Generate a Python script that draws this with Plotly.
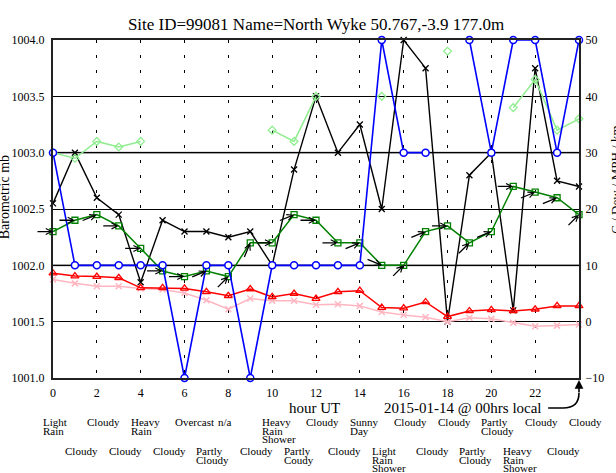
import math
import plotly.graph_objects as go

# Hourly observations, North Wyke, 2015-01-14 (hour UT)
hours = list(range(25))
pressure_mb = [1002.55, 1003.0, 1002.6, 1002.45, 1001.85, 1002.4, 1002.3, 1002.3,
               1002.25, 1002.3, 1002.0, 1002.85, 1003.5, 1003.0, 1003.25, 1002.5,
               1004.0, 1003.75, 1001.5, 1002.8, 1003.0, 1001.6, 1003.75, 1002.75, 1002.7]
temperature_c = [8.6, 8.1, 8.0, 7.8, 6.0, 6.0, 5.9, 5.3, 4.6, 5.8, 4.4, 5.0, 4.1,
                 5.3, 5.5, 2.5, 2.4, 3.5, 0.9, 1.9, 2.1, 1.9, 2.2, 2.8, 2.8]
dew_point_c = [7.5, 6.8, 6.3, 6.3, 5.9, 5.7, 5.1, 3.8, 2.2, 4.1, 3.7, 3.7, 3.0,
               3.1, 2.8, 1.7, 1.2, 0.8, 0.0, 0.7, 0.5, -0.2, -0.8, -0.7, -0.5]
wind_mph = [16, 18, 19, 17, 13, 9, 8, 9, 8, 14, 14, 19, 18, 14, 14, 10, 10, 16,
            17, 14, 16, 24, 23, 22, 19]
gust_mph = [30, 29, 32, 31, 32, None, None, None, None, None, 34, 32, 40, None,
            None, 40, None, None, 48, None, None, 38, 43, 34, 36]
visibility_km = [30, 10, 10, 10, 10, 10, -10, 10, 10, -10, 10, 10, 10, 10, 10,
                 50, 30, 30, None, 50, 30, 50, 50, 30, 50]
# direction the wind blows from, compass degrees
wind_from_deg = [270, 270, 247.5, 270, 270, 270, 270, 247.5, 225, 202.5, 270,
                 247.5, 270, 270, 247.5, 292.5, 225, 247.5, 270, 225, 247.5,
                 270, 247.5, 247.5, 225]
weather = ["Light Rain", "Cloudy", "Cloudy", "Cloudy", "Heavy Rain", "Cloudy",
           "Overcast", "Partly Cloudy", "n/a", "Cloudy", "Heavy Rain Shower",
           "Partly Coudy", "Cloudy", "Cloudy", "Sunny Day", "Light Rain Shower",
           "Cloudy", "Cloudy", "Cloudy", "Partly Cloudy", "Partly Cloudy",
           "Heavy Rain Shower", "Cloudy", "Cloudy", "Cloudy"]

left_ticks = [1001.0, 1001.5, 1002.0, 1002.5, 1003.0, 1003.5, 1004.0]
right_ticks = [-10, 0, 10, 20, 30, 40, 50]
hour_ticks = list(range(0, 23, 2))

FONT = "Liberation Serif"
W, H = 616, 473
L, R, T, B = 50, 37, 40, 95
PW, PH = W - L - R, H - T - B


def px(x):
    return (x - L) / PW


def py(y):
    return (H - B - y) / PH


fig = go.Figure()

fig.add_trace(go.Scatter(
    x=hours, y=gust_mph, yaxis="y2", mode="lines+markers", cliponaxis=False,
    line=dict(color="#90ee90", width=1.5),
    marker=dict(symbol="diamond-open", size=6, color="#90ee90", line=dict(width=1.3)),
    name="Gust"))
fig.add_trace(go.Scatter(
    x=hours, y=dew_point_c, yaxis="y2", mode="lines+markers", cliponaxis=False,
    line=dict(color="#ffb6c1", width=1.5),
    marker=dict(symbol="x-thin", size=6, line=dict(color="#ffb6c1", width=1.5)),
    name="Dew"))
fig.add_trace(go.Scatter(
    x=hours, y=temperature_c, yaxis="y2", mode="lines+markers", cliponaxis=False,
    line=dict(color="#ff0000", width=1.5),
    marker=dict(symbol="triangle-up-open", size=7, color="#ff0000", line=dict(width=1.3)),
    name="Temp"))
fig.add_trace(go.Scatter(
    x=hours, y=wind_mph, yaxis="y2", mode="lines+markers", cliponaxis=False,
    line=dict(color="#008000", width=1.5),
    marker=dict(symbol="square-open", size=6, color="#008000", line=dict(width=1.3)),
    name="Wind"))
fig.add_trace(go.Scatter(
    x=hours, y=visibility_km, yaxis="y2", mode="lines+markers", cliponaxis=False,
    line=dict(color="#0000ff", width=1.6),
    marker=dict(symbol="circle", size=7, color="white", line=dict(color="#0000ff", width=1.5)),
    name="Visibility"))
fig.add_trace(go.Scatter(
    x=hours, y=pressure_mb, yaxis="y", mode="lines+markers", cliponaxis=False,
    line=dict(color="#000000", width=1.4),
    marker=dict(symbol="x-thin", size=6, line=dict(color="#000000", width=1.3)),
    name="Pressure"))

annotations = []

# wind direction arrows, head at each wind-speed point
ARROW = 17
for h, spd, d in zip(hours, wind_mph, wind_from_deg):
    b = math.radians(d - 180)
    dx, dy = math.sin(b), math.cos(b)
    annotations.append(dict(
        x=h, y=spd, xref="x", yref="y2", text="", showarrow=True,
        ax=-ARROW * dx, ay=ARROW * dy, arrowhead=5, arrowsize=0.9,
        arrowwidth=1.3, arrowcolor="black", standoff=0))

# weather descriptions, one word per line, two staggered rows
for h, desc in zip(hours, weather):
    top = 422 if h % 2 == 0 else 451
    for i, word in enumerate(desc.split(" ")):
        annotations.append(dict(
            x=h, xref="x", y=py(top + 8.65 * i), yref="paper", text=word,
            showarrow=False, xanchor="left", yanchor="middle", xshift=-12,
            font=dict(family=FONT, size=11, color="black")))

annotations += [
    dict(x=px(313), y=py(408), xref="paper", yref="paper", text="hour UT",
         showarrow=False, xanchor="center", yanchor="middle",
         font=dict(family=FONT, size=15, color="black")),
    dict(x=px(462), y=py(408), xref="paper", yref="paper",
         text="2015-01-14 @ 00hrs local", showarrow=False,
         xanchor="center", yanchor="middle",
         font=dict(family=FONT, size=15, color="black")),
    dict(x=24, y=1001.0, xref="x", yref="y", text="", showarrow=True,
         ax=0, ay=16, arrowhead=2, arrowsize=1.1, arrowwidth=1.6,
         arrowcolor="black", standoff=2),
    dict(x=px(1), y=py(197), xref="paper", yref="paper", text="Barometric mb",
         textangle=-90, showarrow=False, xanchor="center", yanchor="middle",
         font=dict(family=FONT, size=14, color="black")),
    dict(x=px(615), y=py(180), xref="paper", yref="paper",
         text="C / Dew / MPH / km", textangle=-90, showarrow=False,
         xanchor="center", yanchor="middle",
         font=dict(family=FONT, size=13, color="black")),
]

shapes = [
    dict(type="line", xref="paper", yref="y", x0=0, x1=1, y0=v, y1=v,
         line=dict(color="#808080", width=2), layer="between")
    for v in (1002.0, 1003.0)
]
shapes.append(dict(
    type="path", xref="paper", yref="paper",
    path=f"M {px(548)},{py(408)} L {px(563)},{py(408)} Q {px(579)},{py(408)} {px(579)},{py(393)}",
    line=dict(color="black", width=1.6)))

fig.update_layout(
    width=W, height=H,
    margin=dict(l=L, r=R, t=T, b=B, pad=0),
    paper_bgcolor="white", plot_bgcolor="white",
    showlegend=False,
    font=dict(family=FONT, size=12, color="black"),
    title=dict(text="Site ID=99081 Name=North Wyke 50.767,-3.9 177.0m",
               x=0.5, xref="paper", xanchor="center",
               y=1 - 24 / H, yref="container", yanchor="middle",
               font=dict(family=FONT, size=17, color="black")),
    xaxis=dict(range=[0, 24], tickvals=hour_ticks, ticks="", showgrid=True,
               gridcolor="black", gridwidth=1, griddash="3px,12px",
               showline=True, linecolor="#222222", linewidth=2, mirror=True,
               zeroline=False, ticklabelstandoff=3,
               tickfont=dict(family=FONT, size=12)),
    yaxis=dict(range=[1001.0, 1004.0], tickvals=left_ticks, tickformat=".1f",
               ticks="", showgrid=True, gridcolor="black", gridwidth=1,
               showline=True, linecolor="#222222", linewidth=2, mirror=True,
               zeroline=False, ticklabelstandoff=4,
               tickfont=dict(family=FONT, size=12)),
    yaxis2=dict(range=[-10, 50], tickvals=right_ticks, overlaying="y",
                side="right", ticks="", showgrid=False, showline=True,
                linecolor="#222222", linewidth=2, zeroline=False,
                ticklabelstandoff=2, tickfont=dict(family=FONT, size=12)),
    annotations=annotations,
    shapes=shapes,
)

fig.write_html("out.html")
